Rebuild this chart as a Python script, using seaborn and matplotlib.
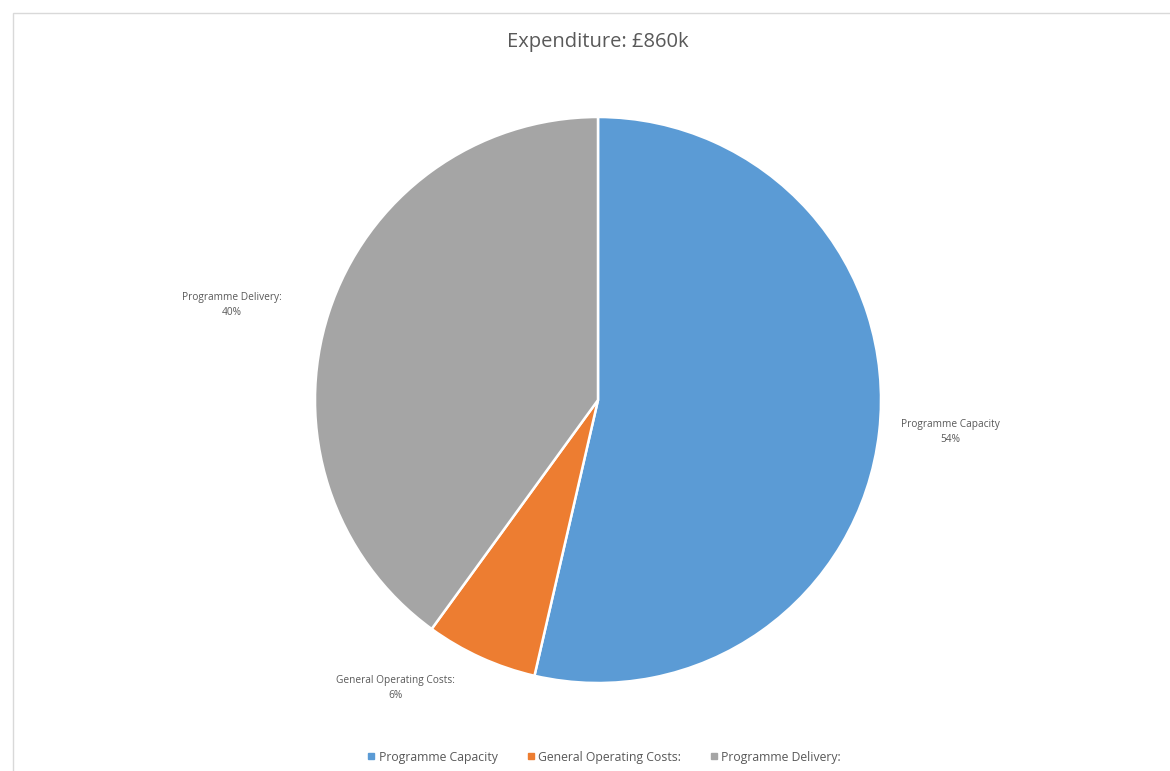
import matplotlib.pyplot as plt
import seaborn as sns
from matplotlib.lines import Line2D
from matplotlib.patches import Rectangle

# data (expenditure, £k, total £860k)
categories = ['Programme Capacity', 'General Operating Costs:', 'Programme Delivery:']
spend_k = [461, 55, 344]
title = 'Expenditure: £860k'

colors = ['#5B9BD5', '#ED7D31', '#A5A5A5']
text_col = '#595959'

sns.set_theme(style='white')
plt.rcParams['font.family'] = ['Open Sans', 'DejaVu Sans']

W, H = 1170, 771
cx, cy, r = 598, 400, 283

f = plt.figure(figsize=(W / 100, H / 100), dpi=100)
ax = f.add_axes([0, 0, 1, 1])

wedges, _ = ax.pie(spend_k, colors=colors, startangle=90, counterclock=False,
                   wedgeprops=dict(edgecolor='white', linewidth=1.8))

# map 1 data unit = r pixels, pie centred at (cx, cy) pixel (top-down)
ax.set_xlim(-cx / r, (W - cx) / r)
ax.set_ylim((cy - H) / r, cy / r)
ax.set_aspect('auto')
ax.axis('off')

# data labels placed outside end (best fit)
total = sum(spend_k)
label_pos = [(1.244, -0.113), (-0.717, -1.018), (-1.293, 0.336)]
for name, val, (lx, ly) in zip(categories, spend_k, label_pos):
    ax.text(lx, ly, f'{name}\n{round(100 * val / total)}%', ha='center', va='center',
            fontsize=7.3, color=text_col, linespacing=1.5)

f.text(598 / W, 1 - 42 / H, title, ha='center', va='center', fontsize=14.5, color=text_col)

# chart area border
f.patches.append(Rectangle((13 / W, -0.1), 1.2, 1 - 13 / H + 0.1, transform=f.transFigure,
                           fill=False, edgecolor='#D9D9D9', linewidth=1.0))

handles = [Line2D([], [], marker='s', linestyle='none', markersize=4, color=c) for c in colors]
f.legend(handles, categories, loc='center', bbox_to_anchor=(603 / W, 1 - 757 / H), ncol=3,
         frameon=False, fontsize=8.8, labelcolor=text_col, handletextpad=0.1,
         columnspacing=2.2, handlelength=1.0)

plt.savefig('out.png', dpi=100)
